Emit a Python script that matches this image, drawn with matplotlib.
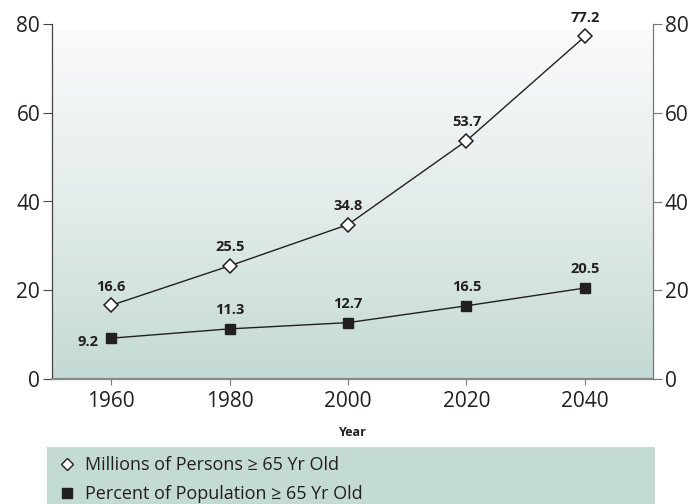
import matplotlib
matplotlib.use("Agg")
import matplotlib.pyplot as plt
import numpy as np
from matplotlib.lines import Line2D
from matplotlib.patches import Rectangle
from matplotlib.colors import LinearSegmentedColormap

years = [1960, 1980, 2000, 2020, 2040]
millions = [16.6, 25.5, 34.8, 53.7, 77.2]
percent = [9.2, 11.3, 12.7, 16.5, 20.5]
yticks = [0, 20, 40, 60, 80]
label_millions = "Millions of Persons \u2265 65 Yr Old"
label_percent = "Percent of Population \u2265 65 Yr Old"

plt.rcParams['font.family'] = ['Open Sans', 'DejaVu Sans']
TXT = '#231f20'

fig = plt.figure(figsize=(6.91, 5.04), dpi=100)
ax = fig.add_axes([52/691, 1-379/504, (653-52)/691, (379-24)/504])
ax.set_xlim(1950, 2051.5)
ax.set_ylim(0, 80)

# gradient background (light at top, teal-grey at bottom)
cmap = LinearSegmentedColormap.from_list('bg', ['#fafbfb', '#e3ecea', '#c4dad5'])
grad = np.linspace(0, 1, 256).reshape(-1, 1)
ax.imshow(grad, extent=(1950, 2051.5, 0, 78.5), aspect='auto', cmap=cmap,
          vmin=0, vmax=1, zorder=0, origin='upper')

ax.plot(years, millions, color=TXT, lw=1.0, marker='D', ms=7, mfc='white',
        mec=TXT, mew=1.1, zorder=3)
ax.plot(years, percent, color=TXT, lw=1.0, marker='s', ms=7.5, mfc=TXT,
        mec=TXT, zorder=3)

for x, v in zip(years, millions):
    ax.annotate(f"{v}", (x, v), xytext=(0, 13.5), textcoords='offset points',
                ha='center', va='center', fontsize=10.5, fontweight='bold', color=TXT)
for i, (x, v) in enumerate(zip(years, percent)):
    if i == 0:
        ax.annotate(f"{v}", (x, v), xytext=(-17, -3), textcoords='offset points',
                    ha='center', va='center', fontsize=10.5, fontweight='bold', color=TXT)
    else:
        ax.annotate(f"{v}", (x, v), xytext=(0, 13.5), textcoords='offset points',
                    ha='center', va='center', fontsize=10.5, fontweight='bold', color=TXT)

ax.set_xticks(years)
ax.set_yticks(yticks)
ax.tick_params(axis='x', length=4.5, width=0.8, color='#777777', labelsize=15,
               labelcolor=TXT, pad=4)
ax.tick_params(axis='y', length=6.5, width=0.8, color='#444444', labelsize=15,
               labelcolor=TXT, pad=2)
ax.spines['top'].set_visible(False)
ax.spines['left'].set_color('#444444')
ax.spines['left'].set_linewidth(0.9)
ax.spines['bottom'].set_color('#888888')
ax.spines['bottom'].set_linewidth(1.6)
ax.spines['right'].set_color('#777777')
ax.spines['right'].set_linewidth(0.9)
ax.set_xlabel('Year', fontsize=9, fontweight='bold', color=TXT, labelpad=10)

ax2 = ax.twinx()
ax2.set_ylim(0, 80)
ax2.set_yticks(yticks)
ax2.tick_params(axis='y', length=6.5, width=0.8, color='#777777', labelsize=15,
                labelcolor=TXT, pad=2)
for s in ['top', 'left', 'bottom', 'right']:
    ax2.spines[s].set_visible(False)

# legend box
fig.patches.append(Rectangle((47/691, 0), (655-47)/691, (504-447)/504,
                             transform=fig.transFigure, facecolor='#c4dad5',
                             edgecolor='none', zorder=0))
handles = [Line2D([], [], ls='none', marker='D', ms=6.5, mfc='white', mec=TXT, mew=1.0),
           Line2D([], [], ls='none', marker='s', ms=7, mfc=TXT, mec=TXT)]
fig.legend(handles, [label_millions, label_percent], loc='upper left',
           bbox_to_anchor=(58/691, 1-456/504), frameon=False, fontsize=13,
           handlelength=1.0, handletextpad=0.5, labelspacing=0.6,
           borderaxespad=0, borderpad=0, labelcolor=TXT)

fig.savefig('out.png', dpi=100)
